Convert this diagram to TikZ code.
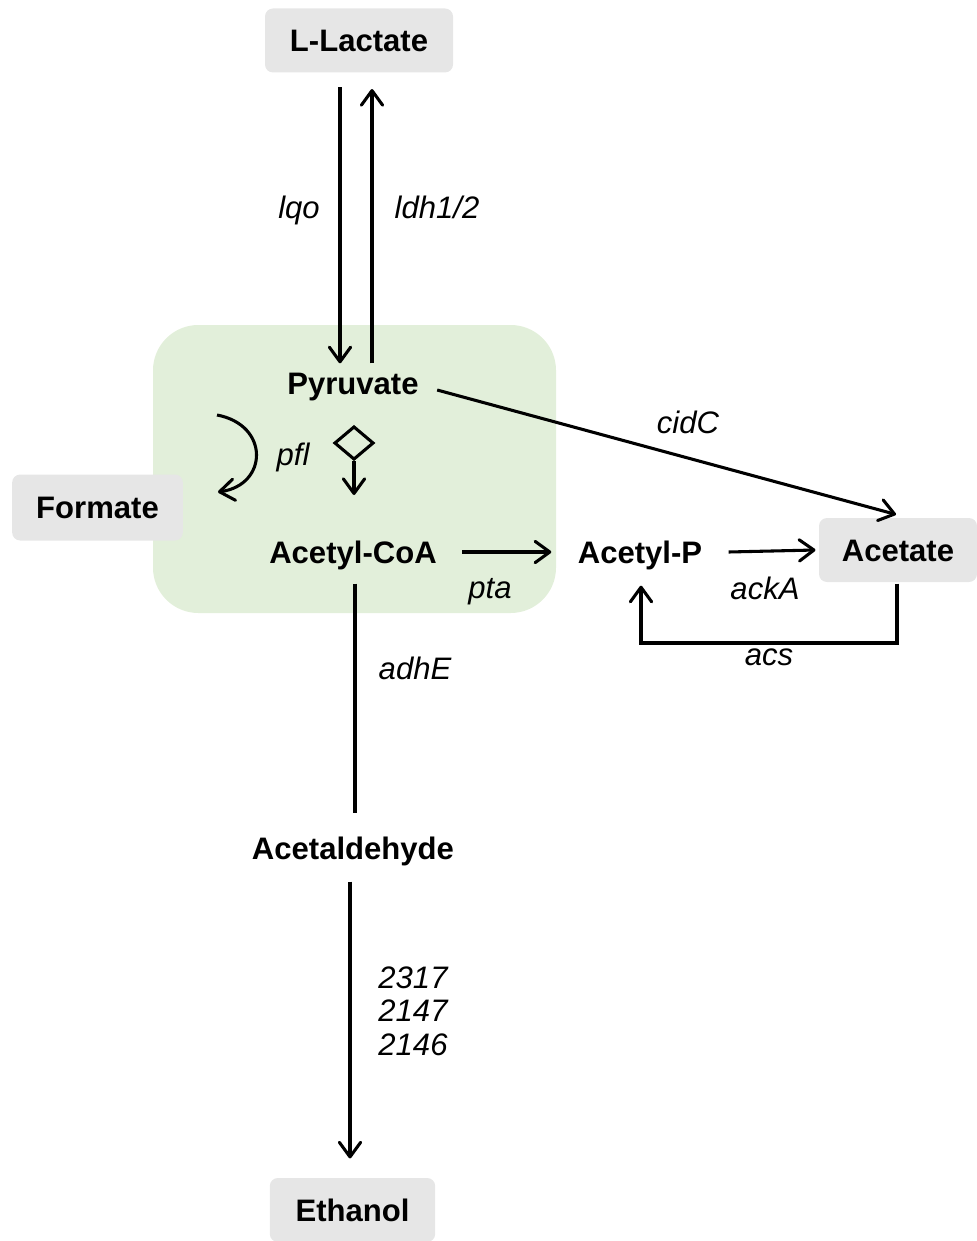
\documentclass[tikz,border=0pt]{standalone}
\usepackage{fontspec}
\setmainfont{Liberation Sans}
\usetikzlibrary{arrows.meta,shapes.geometric,calc}
\definecolor{boxgray}{HTML}{E6E6E6}
\definecolor{zonegreen}{HTML}{E2EFDA}

\begin{document}
\begin{tikzpicture}[x=0.75pt,y=-0.75pt,
  line width=2.3pt,
  arr/.style={-{Straight Barb[length=11pt,width=16pt,line cap=round,line join=round]}},
  metab/.style={font=\fontsize{23.3}{28}\selectfont\bfseries, inner sep=0pt,
                text height=16.7pt, text depth=0pt},
  pool/.style={metab, fill=boxgray, rounded corners=6pt},
  enz/.style={font=\fontsize{23.3}{28}\selectfont\itshape, inner sep=0pt, anchor=base},
]
\useasboundingbox (0,0) rectangle (977,1241);

% shaded region around the pyruvate node
\fill[zonegreen, rounded corners=34pt] (153,325) rectangle (556,613);

% metabolites
\node[pool, minimum width=141pt, minimum height=48pt] (lac) at (359,40.5) {L-Lactate};
\node[metab] (pyr) at (353,383) {Pyruvate};
\node[pool, minimum width=128pt, minimum height=49.5pt] (form) at (97.5,507.5) {Formate};
\node[metab] (acoa) at (353,552) {Acetyl-CoA};
\node[metab] (acp) at (640,552) {Acetyl-P};
\node[pool, minimum width=118.5pt, minimum height=48pt] (acet) at (898,550) {Acetate};
\node[metab] (ald) at (353,848) {Acetaldehyde};
\node[pool, minimum width=124pt, minimum height=48pt] (eth) at (352.5,1210) {Ethanol};

% pfl symbol
\node[draw, diamond, minimum width=29.5pt, minimum height=25pt, inner sep=0pt] (dmd) at (354,443) {};

% helper coordinates
\coordinate (lqoX) at (340,0);
\coordinate (ldhX) at (372,0);
\coordinate (pflA) at (217,415);
\coordinate (pflB) at (218,492);
\coordinate (dmdTip) at (354,495);
\coordinate (acsL) at (641,643);
\coordinate (acsR) at (897,643);

% connectors
\draw[arr] ($(lac.south -| lqoX)+(0,13)$) -- ($(pyr.north -| lqoX)+(0,-7)$);
\draw[arr] ($(pyr.north -| ldhX)+(0,-7)$) -- ($(lac.south -| ldhX)+(0,15)$);
\draw[arr] ($(pyr.east)+(17,7)$) -- ($(acet.north)+(-2,-2)$);
\draw[arr] (pflA) .. controls (270,425) and (268,485) .. (pflB);
\draw[arr] (dmd.south) -- (dmdTip);
\draw[arr] ($(acoa.east)+(24,0)$) -- ($(acp.west)+(-25,0)$);
\draw[arr] ($(acp.east)+(25,0)$) -- ($(acet.west)+(-2,0)$);
\draw[arr] (acet.south -| acsR) -- (acsR) -- (acsL) -- ($(acp.south -| acsL)+(0,21)$);
\draw ($(acoa.south)+(2,19)$) -- ($(ald.north)+(2,-22)$);
\draw[arr] ($(ald.south)+(-3,21)$) -- ($(eth.north)+(-2.5,-18)$);

% enzyme labels
\node[enz] (lqo) at (299,219) {lqo};
\node[enz] (ldh) at (437,219) {ldh1/2};
\node[enz] (cidc) at (688,433) {cidC};
\node[enz] (pfl) at (293,465) {pfl};
\node[enz] (pta) at (490,598) {pta};
\node[enz] (acka) at (765,599) {ackA};
\node[enz] (acs) at (769,665) {acs};
\node[enz] (adhe) at (415,679) {adhE};
\node[enz] (e1) at (413,988) {2317};
\node[enz] (e2) at (413,1021.5) {2147};
\node[enz] (e3) at (413,1055) {2146};
\end{tikzpicture}
\end{document}
